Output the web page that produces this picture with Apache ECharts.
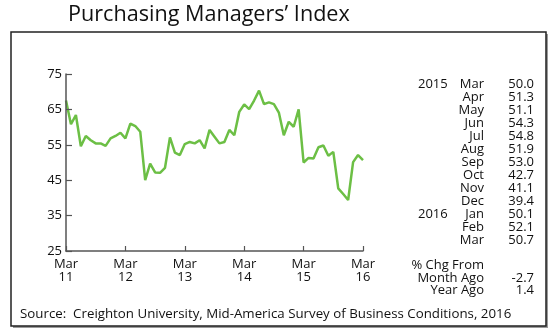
<!DOCTYPE html>
<html><head><meta charset="utf-8">
<script src="https://cdn.jsdelivr.net/npm/echarts@6/dist/echarts.min.js"></script>
<style>html,body{margin:0;padding:0;background:#fff}#c{width:556px;height:333px}</style>
</head><body><div id="c"></div>
<script>
// Monthly PMI, Mar 2011 .. Mar 2016
const months = [];
(function(){const m=['Jan','Feb','Mar','Apr','May','Jun','Jul','Aug','Sep','Oct','Nov','Dec'];
for(let i=0;i<61;i++){const mi=(2+i)%12, y=2011+Math.floor((2+i)/12); months.push(m[mi]+' '+y);} })();
const pmi = [
 67.5, 60.8, 63.4, 54.6, 57.5, 56.3, 55.4, 55.4, 54.7, 56.8, 57.5, 58.4,
 56.8, 61.0, 60.3, 58.7, 45.0, 49.7, 47.2, 47.1, 48.5, 57.1, 52.8, 52.1,
 55.2, 55.8, 55.4, 56.3, 54.0, 59.2, 57.3, 55.4, 55.8, 59.2, 57.7, 64.3,
 66.4, 65.1, 67.5, 70.3, 66.5, 67.0, 66.5, 64.1, 57.7, 61.5, 60.1, 65.0,
 50.0, 51.3, 51.1, 54.3, 54.8, 51.9, 53.0, 42.7, 41.1, 39.4, 50.1, 52.1,
 50.7
];
const xTickLabels = ['Mar\n11','Mar\n12','Mar\n13','Mar\n14','Mar\n15','Mar\n16'];
const yTicks = [25, 35, 45, 55, 65, 75];
const tableYears = ['2015','','','','','','','','','','2016','',''];
const tableMonths = ['Mar','Apr','May','Jun','Jul','Aug','Sep','Oct','Nov','Dec','Jan','Feb','Mar'];
const tableValues = ['50.0','51.3','51.1','54.3','54.8','51.9','53.0','42.7','41.1','39.4','50.1','52.1','50.7'];
const chgLabels = ['Month Ago','Year Ago'];
const chgValues = ['-2.7','1.4'];

const FONT = '"Open Sans", "Noto Sans", sans-serif';
const chart = echarts.init(document.getElementById('c'), null, {renderer:'canvas'});
const g = [];
g.push({type:'rect', shape:{x:13,y:34,width:535,height:294}, style:{fill:'#9a9a9a'}, z:0});
g.push({type:'rect', shape:{x:11,y:32,width:535,height:294}, style:{fill:'#fff', stroke:'#222', lineWidth:1.5}, z:1});
g.push({type:'text', left:68, top:4, style:{text:'Purchasing Managers\u2019 Index', font:'21.6px '+FONT, fill:'#111'}, z:5});
const rowH = 13, row0 = 84;
for(let i=0;i<tableMonths.length;i++){
  const y=row0+i*rowH;
  if(tableYears[i]) g.push({type:'text', x:418, y:y, style:{text:tableYears[i], font:'13px '+FONT, fill:'#111', textVerticalAlign:'middle'}, z:5});
  g.push({type:'text', x:484, y:y, style:{text:tableMonths[i], font:'13px '+FONT, fill:'#111', textAlign:'right', textVerticalAlign:'middle'}, z:5});
  g.push({type:'text', x:534, y:y, style:{text:tableValues[i], font:'13px '+FONT, fill:'#111', textAlign:'right', textVerticalAlign:'middle'}, z:5});
}
g.push({type:'text', x:484, y:265, style:{text:'% Chg From', font:'13px '+FONT, fill:'#111', textAlign:'right', textVerticalAlign:'middle'}, z:5});
for(let i=0;i<chgLabels.length;i++){
  const y=278+i*12.5;
  g.push({type:'text', x:484, y:y, style:{text:chgLabels[i], font:'13px '+FONT, fill:'#111', textAlign:'right', textVerticalAlign:'middle'}, z:5});
  g.push({type:'text', x:534, y:y, style:{text:chgValues[i], font:'13px '+FONT, fill:'#111', textAlign:'right', textVerticalAlign:'middle'}, z:5});
}
g.push({type:'text', x:20, y:314, style:{text:'Source:  Creighton University, Mid-America Survey of Business Conditions, 2016', font:'13.3px '+FONT, fill:'#111', textVerticalAlign:'middle'}, z:5});

chart.setOption({
  animation:false,
  graphic:g,
  grid:{left:66, top:74, width:297, height:177, containLabel:false, z:3},
  xAxis:{type:'category', data:months, boundaryGap:false, z:4,
    axisLine:{show:true, lineStyle:{color:'#555', width:1.5}},
    axisTick:{show:true, inside:true, length:5, interval:11, lineStyle:{color:'#555', width:1.2}},
    axisLabel:{show:true, interval:11, formatter:function(v, i){ return xTickLabels[Math.round(i/12)] || ''; }, color:'#111', fontSize:13, fontFamily:FONT, lineHeight:13, margin:7},
    splitLine:{show:false}},
  yAxis:{type:'value', min:yTicks[0], max:yTicks[yTicks.length-1], interval:10, z:4,
    axisLine:{show:true, lineStyle:{color:'#555', width:1.5}},
    axisTick:{show:true, inside:true, length:6, lineStyle:{color:'#555', width:1.2}},
    axisLabel:{show:true, color:'#111', fontSize:13, fontFamily:FONT, margin:4},
    splitLine:{show:false}},
  series:[{type:'line', data:pmi, symbol:'none', lineStyle:{color:'#6cbf45', width:2.5}, z:3}]
});
</script></body></html>
